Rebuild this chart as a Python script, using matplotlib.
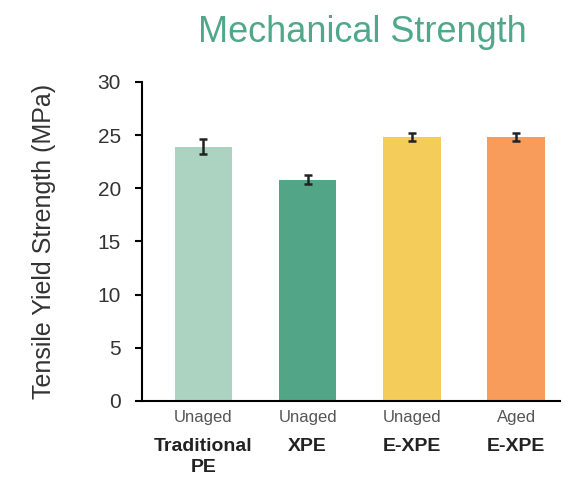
import numpy as np
import matplotlib.pyplot as plt
import matplotlib.transforms as mtransforms

plt.rcParams['font.family'] = ['Liberation Sans', 'DejaVu Sans']

# data
conditions = ["Unaged", "Unaged", "Unaged", "Aged"]
materials = ["Traditional\nPE", "XPE", "E-XPE", "E-XPE"]
strength = [23.9, 20.8, 24.8, 24.8]
errors = [0.7, 0.4, 0.35, 0.35]
colors = ["#acd3c1", "#52a687", "#f3cc5a", "#f79c5a"]

fig = plt.figure(figsize=(5.79, 4.79), dpi=100)
ax = fig.add_axes([0.245, 0.163, 0.722, 0.666])

x = np.arange(len(strength))
ax.bar(x, strength, width=0.55, color=colors,
       yerr=errors, error_kw=dict(ecolor='#222222', elinewidth=1.8, capsize=3, capthick=1.8))

ax.set_xlim(-0.59, 3.42)
ax.set_ylim(0, 30)
ax.set_yticks([0, 5, 10, 15, 20, 25, 30])
ax.set_xticks([])
ax.spines['top'].set_visible(False)
ax.spines['right'].set_visible(False)
ax.spines['left'].set_linewidth(1.5)
ax.spines['bottom'].set_linewidth(1.5)
ax.tick_params(axis='y', labelsize=15, labelcolor='#333333', length=5, width=1.5, pad=10)

trans = mtransforms.blended_transform_factory(ax.transData, ax.transAxes)
for xi, cond, mat in zip(x, conditions, materials):
    ax.text(xi, -0.03, cond, transform=trans, ha='center', va='top',
            fontsize=12, color='#555555')
    ax.text(xi, -0.115, mat, transform=trans, ha='center', va='top',
            fontsize=14, color='#222222', fontweight='bold', linespacing=1.3)

ax.set_ylabel('Tensile Yield Strength (MPa)', fontsize=18, color='#333333', labelpad=30)
fig.text(0.625, 0.932, 'Mechanical Strength', ha='center', va='center',
         fontsize=26, color='#4fa88a')

plt.savefig('out.png', dpi=100)
